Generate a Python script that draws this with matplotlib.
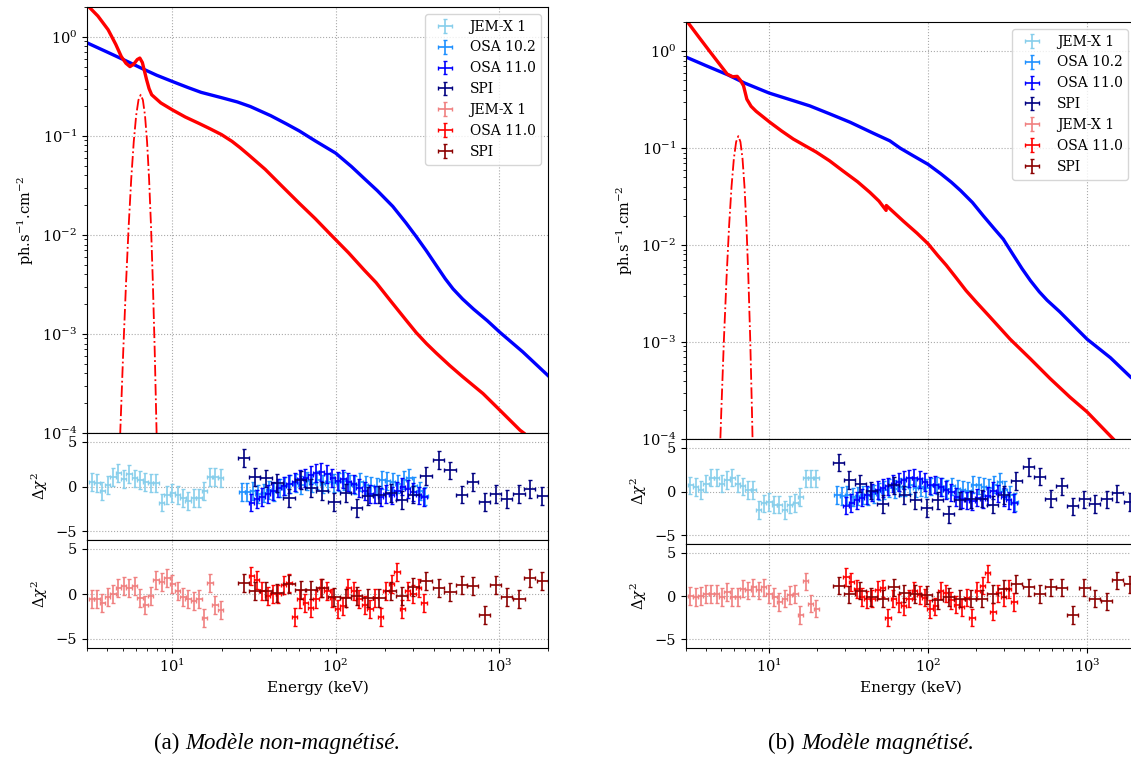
import numpy as np
import matplotlib.pyplot as plt

plt.rcParams['font.family'] = 'DejaVu Serif'
plt.rcParams['mathtext.fontset'] = 'dejavuserif'
plt.rcParams['xtick.labelsize'] = 10.5
plt.rcParams['ytick.labelsize'] = 10.5

# ---- model curves (keV, ph/s/cm2) ----
a_blue_e = [3.0, 4.0, 5.0, 6.5, 8.0, 10, 12.5, 15, 20, 25, 30, 40, 50, 60, 75, 100, 125, 150, 180, 224,
            270, 312, 360, 414, 470, 524, 600, 700, 850, 1014, 1400, 2000]
a_blue_f = [0.87, 0.70, 0.59, 0.48, 0.41, 0.354, 0.307, 0.275, 0.243, 0.22, 0.198, 0.16, 0.132, 0.112,
            0.089, 0.067, 0.049, 0.037, 0.028, 0.0194, 0.0132, 0.0096, 0.0069, 0.0049, 0.0036, 0.00285,
            0.00225, 0.00178, 0.00136, 0.00104, 0.00066, 0.00038]
a_red_e = [3.0, 3.5, 4.04, 4.5, 4.87, 5.2, 5.5, 5.8, 6.1, 6.32, 6.55, 6.75, 6.95, 7.2, 7.47, 8.5, 10, 12,
           14.5, 17, 20, 23.2, 26, 29.4, 37, 47, 60, 75, 91, 120, 150, 177, 220, 270, 312, 360, 414, 500,
           600, 800, 1000, 1346, 1420]
a_red_f = [2.1, 1.62, 1.18, 0.84, 0.63, 0.54, 0.50, 0.53, 0.59, 0.61, 0.55, 0.45, 0.37, 0.30, 0.26, 0.215,
           0.183, 0.155, 0.134, 0.118, 0.103, 0.088, 0.076, 0.064, 0.046, 0.031, 0.0208, 0.0146, 0.0105,
           0.0066, 0.0044, 0.0033, 0.0021, 0.00138, 0.00103, 0.0008, 0.00064, 0.00048, 0.00037, 0.00025,
           0.000174, 0.000107, 0.0001]
a_line_e = [4.7, 4.8, 5.0, 5.2, 5.4, 5.6, 5.8, 6.0, 6.2, 6.4, 6.6, 6.8, 7.0, 7.2, 7.4, 7.6, 7.8, 8.0, 8.1]
a_line_f = [3.9e-5, 1.06e-4, 6.6e-4, 3.2e-3, 0.0123, 0.037, 0.087, 0.16, 0.23, 0.26, 0.23, 0.16, 0.087,
            0.037, 0.0123, 3.2e-3, 6.6e-4, 1.06e-4, 3.9e-5]

b_blue_e = [2.9, 3.0, 4.0, 5.5, 7.0, 10, 14, 18, 24, 32.3, 45, 57.4, 66.7, 80, 100, 120, 140, 160, 190,
            222, 260, 297, 340, 390, 440, 500, 560, 673, 820, 1000, 1400, 1892, 2000]
b_blue_f = [0.88, 0.87, 0.71, 0.57, 0.47, 0.37, 0.311, 0.273, 0.226, 0.185, 0.143, 0.119, 0.10, 0.084,
            0.068, 0.0545, 0.0445, 0.0365, 0.0275, 0.0201, 0.0148, 0.0115, 0.0081, 0.0057, 0.0043, 0.0033,
            0.0027, 0.00205, 0.00148, 0.00107, 0.00069, 0.00043, 0.00041]
b_red_e = [3.0, 3.6, 4.26, 4.8, 5.45, 5.9, 6.3, 6.6, 6.9, 7.24, 7.7, 8.28, 10.1, 12, 14.2, 16.8, 19.8, 24,
           29.2, 36, 43, 49, 54.4, 54.6, 70, 85, 100, 115, 130, 150, 173, 200, 240, 328, 440, 585, 780,
           1000, 1460]
b_red_f = [2.1, 1.41, 0.98, 0.76, 0.58, 0.545, 0.55, 0.50, 0.44, 0.32, 0.27, 0.24, 0.185, 0.15, 0.124,
           0.106, 0.091, 0.074, 0.058, 0.045, 0.035, 0.0285, 0.0228, 0.0256, 0.0176, 0.0133, 0.0103,
           0.0078, 0.0062, 0.0046, 0.0034, 0.0026, 0.00188, 0.00107, 0.00067, 0.00042, 0.00027, 0.00019,
           0.0001]
b_line_e = [4.8, 5.0, 5.2, 5.4, 5.6, 5.8, 6.0, 6.2, 6.4, 6.6, 6.8, 7.0, 7.2, 7.4, 7.6, 7.8, 8.0]
b_line_f = [2.6e-5, 1.9e-4, 1.1e-3, 4.7e-3, 0.0158, 0.040, 0.078, 0.116, 0.133, 0.116, 0.078, 0.040,
            0.0158, 4.7e-3, 1.1e-3, 1.9e-4, 2.6e-5]

# ---- residual bins (keV) ----
jemx_e = [3.2, 3.45, 3.72, 4.01, 4.33, 4.67, 5.04, 5.44, 5.87, 6.33, 6.83, 7.37, 7.95, 8.58, 9.26, 9.99,
          10.8, 11.6, 12.5, 13.5, 14.6, 15.7, 17.0, 18.3, 19.8]
osa10_e = [26.7, 28.8, 31.1, 33.5, 36.2, 39.0, 42.1, 45.4, 49.0, 52.9, 57.0, 61.5, 66.4, 71.6, 77.3, 83.4,
           90.0, 97.1, 104.8, 113.0, 122, 131.6, 142, 153.2, 165.3, 178.4, 192.5, 207.7, 224.1, 241.8,
           260.9, 281.5, 303.8, 327.8, 353.7]
osa11_e = [30.5, 32.9, 35.5, 38.3, 41.3, 44.6, 48.1, 51.9, 56.0, 60.4, 65.2, 70.3, 75.9, 81.9, 88.4, 95.4,
           102.9, 111.0, 119.8, 129.3, 139.5, 150.5, 162.4, 175.2, 189.1, 204.0, 220.1, 237.5, 256.3,
           276.5, 298.4, 322.0, 347.4]
spi_e = [27.4, 32.0, 37.5, 44.0, 52.0, 61.0, 71.0, 83.0, 98.0, 115, 135, 158, 185, 217, 255, 300, 359,
         428, 504, 594, 692, 817, 960, 1117, 1334, 1550, 1850]

# ---- residuals, panel (a) ----
a_jemx_b = [0.55, 0.4, -0.5, 0.2, 1.1, 1.5, 0.8, 1.4, 0.9, 0.75, 0.55, 0.35, 0.35, -1.8, -0.95, -0.75,
            -0.95, -1.3, -1.65, -1.3, -1.3, -0.55, 1.1, 1.1, 1.0]
a_osa10_b = [-0.6, -0.6, -0.5, -0.8, -0.7, -0.4, -0.6, -0.2, 0.1, 0.3, 0.4, 0.2, 0.6, 0.4, 0.7, 0.3, 0.5,
             0.4, 0.5, 0.6, 0.3, 0.2, 0.5, 0.2, 0.1, 0.0, 0.7, 0.6, 0.5, 0.3, 0.7, 1.0, 0.1, -0.5, -1.1]
a_osa11_b = [-1.8, -1.4, -1.2, -0.8, -0.5, -0.2, 0.1, 0.3, 0.5, 0.8, 1.0, 1.3, 1.5, 1.6, 1.4, 1.0, 0.6,
             0.8, 0.5, 0.3, -0.2, -0.5, -0.8, -0.9, -1.2, -0.8, -1.0, -0.5, 0.0, -0.3, -0.6, -1.0, -1.2]
a_spi_b = [3.15, 1.1, 0.9, 0.4, -1.3, 0.7, -0.2, -0.55, -1.7, -0.75, -2.4, -1.1, -0.9, -0.75, -1.5, -0.9,
           1.2, 3.0, 1.8, -0.9, 0.5, -1.7, -0.8, -1.4, -0.85, -0.3, -1.1]
a_jemx_r = [-0.6, -0.6, -1.0, -0.3, 0.0, 0.7, 0.9, 0.7, 0.9, -0.4, -1.2, -0.2, 1.6, 1.3, 1.8, 1.1, 0.3,
            -0.3, -0.6, -0.8, -0.5, -2.7, 1.2, -1.2, -1.8]
a_osa11_r = [2.0, 1.6, 0.3, -0.2, 0.0, 0.0, 1.0, 1.2, -2.6, -0.6, -1.0, -1.5, -0.6, 0.7, 0.35, -0.4, -1.7,
             -1.35, 0.7, 0.35, -0.6, -1.2, -1.7, -0.4, -2.5, 0.3, 1.1, 2.4, -1.7, 0.35, 0.0, 0.7, -1.0]
a_spi_r = [1.2, 0.35, 0.3, 0.1, 1.1, 0.5, 0.45, 0.7, -0.3, -0.4, -0.2, -0.4, -0.4, 0.35, -0.2, 0.8, 1.4,
           0.7, 0.2, 1.0, 0.9, -2.3, 1.0, -0.3, -0.6, 1.8, 1.4]

# ---- residuals, panel (b) ----
b_jemx_b = [0.7, 0.5, 0.15, 0.9, 1.6, 1.6, 0.9, 1.3, 1.6, 0.9, 0.6, 0.2, 0.15, -2.1, -1.35, -1.2, -1.5,
            -1.5, -2.1, -1.5, -1.3, -0.6, 1.5, 1.5, 1.5]
b_osa10_b = [-0.4, -0.5, -0.4, -0.6, -0.5, -0.4, -0.5, -0.3, 0.0, 0.2, 0.4, 0.3, 0.5, 0.5, 0.7, 0.4, 0.5,
             0.4, 0.6, 0.7, 0.5, 0.3, 0.6, 0.3, 0.2, 0.1, 0.8, 0.7, 0.5, 0.4, 0.8, 1.1, 0.2, -0.4, -1.2]
b_osa11_b = [-1.6, -1.3, -1.0, -0.7, -0.4, -0.1, 0.2, 0.4, 0.6, 0.9, 1.1, 1.3, 1.5, 1.6, 1.4, 1.1, 0.7,
             0.8, 0.5, 0.2, -0.1, -0.6, -0.9, -1.0, -1.1, -0.7, -0.9, -0.5, 0.1, -0.2, -0.6, -1.0, -1.3]
b_spi_b = [3.3, 1.3, 0.9, 0.1, -1.4, 0.7, -0.4, -1.0, -1.9, -1.0, -2.6, -1.0, -0.9, -0.8, -1.5, -0.4, 1.2,
           2.8, 1.7, -0.8, 0.6, -1.7, -0.9, -1.4, -0.9, -0.2, -1.2]
b_jemx_r = [0.0, -0.1, 0.0, 0.25, 0.25, 0.25, -0.1, 0.45, -0.1, -0.1, 0.85, 0.65, 1.0, 0.65, 1.0, 0.25,
            -0.1, -0.7, -0.3, 0.1, 0.25, -2.2, 1.7, -0.9, -1.45]
b_osa11_r = [2.2, 1.6, 0.8, -0.1, -0.4, -0.3, 0.7, 0.9, -2.5, -0.3, -0.8, -1.2, -0.3, 0.6, 0.1, -0.2, -1.5,
             -1.2, 0.6, 0.3, -0.5, -1.0, -1.3, -0.2, -2.5, 0.6, 1.2, 2.6, -1.8, 0.3, -0.1, 0.8, -0.7]
b_spi_r = [1.2, 0.2, 0.6, -0.1, -0.3, 1.0, 0.3, 0.25, 0.1, -0.5, -0.1, -0.3, -0.3, -0.3, 0.25, 0.85, 1.4,
           1.0, 0.25, 1.0, 0.95, -2.2, 0.95, -0.3, -0.6, 1.8, 1.35]

W, H = 1131, 763
fig = plt.figure(figsize=(W / 100, H / 100), dpi=100)


def box(x0, x1, y0, y1):
    return [x0 / W, 1 - y1 / H, (x1 - x0) / W, (y1 - y0) / H]


def resid(ax, e, v, frac, color, label):
    e = np.array(e)
    return ax.errorbar(e, v, xerr=e * frac, yerr=1, fmt='none', ecolor=color,
                       elinewidth=1.2, capsize=1.5, capthick=1.0, label=label)


def panel(xl, xr, ys, blue, red, line, rb, rr, tag, caption, xsplit):
    ax = fig.add_axes(box(xl, xr, ys[0], ys[1]))
    r1 = fig.add_axes(box(xl, xr, ys[1], ys[2]), sharex=ax)
    r2 = fig.add_axes(box(xl, xr, ys[2], ys[3]), sharex=ax)

    ax.loglog(blue[0], blue[1], color='blue', lw=2.4)
    ax.loglog(red[0], red[1], color='red', lw=2.4)
    ax.loglog(line[0], line[1], color='red', lw=1.3, ls='-.')
    ax.set_xlim(3, 2000)
    ax.set_ylim(1e-4, 2)
    ax.set_ylabel(r'ph.s$^{-1}$.cm$^{-2}$', fontsize=10.5)
    ax.tick_params(labelbottom=False)

    hs = [resid(r1, jemx_e, rb[0], 0.038, 'skyblue', 'JEM-X 1'),
          resid(r1, osa10_e, rb[1], 0.038, 'dodgerblue', 'OSA 10.2'),
          resid(r1, osa11_e, rb[2], 0.038, 'blue', 'OSA 11.0'),
          resid(r1, spi_e, rb[3], 0.08, 'navy', 'SPI'),
          resid(r2, jemx_e, rr[0], 0.038, 'lightcoral', 'JEM-X 1'),
          resid(r2, osa11_e, rr[1], 0.038, 'red', 'OSA 11.0'),
          resid(r2, spi_e, rr[2], 0.08, 'darkred', 'SPI')]
    ax.legend(hs, [h.get_label() for h in hs], loc='upper right', fontsize=10)

    for r in (r1, r2):
        r.set_ylim(-6, 6)
        r.set_yticks([-5, 0, 5])
        r.set_ylabel(r'$\Delta\chi^2$', fontsize=10.5)
    r1.tick_params(labelbottom=False)
    for a in (ax, r1, r2):
        a.grid(True, which='major', ls=':', color='#aaaaaa', lw=0.8)
    r2.set_xlabel('Energy (keV)', fontsize=11)

    fig.text(xsplit / W, 1 - 743 / H, tag, ha='right', va='center',
             fontsize=16.5, family='Liberation Serif')
    fig.text((xsplit + 6) / W, 1 - 743 / H, caption, ha='left', va='center',
             fontsize=16.5, family='Liberation Serif', style='italic')


panel(87, 548, [7, 433, 540, 648],
      (a_blue_e, a_blue_f), (a_red_e, a_red_f), (a_line_e, a_line_f),
      (a_jemx_b, a_osa10_b, a_osa11_b, a_spi_b), (a_jemx_r, a_osa11_r, a_spi_r),
      '(a)', 'Modèle non-magnétisé.', 179)
panel(686, 1135, [22, 439, 544, 648],
      (b_blue_e, b_blue_f), (b_red_e, b_red_f), (b_line_e, b_line_f),
      (b_jemx_b, b_osa10_b, b_osa11_b, b_spi_b), (b_jemx_r, b_osa11_r, b_spi_r),
      '(b)', 'Modèle magnétisé.', 795)

fig.savefig('out.png', dpi=100)
